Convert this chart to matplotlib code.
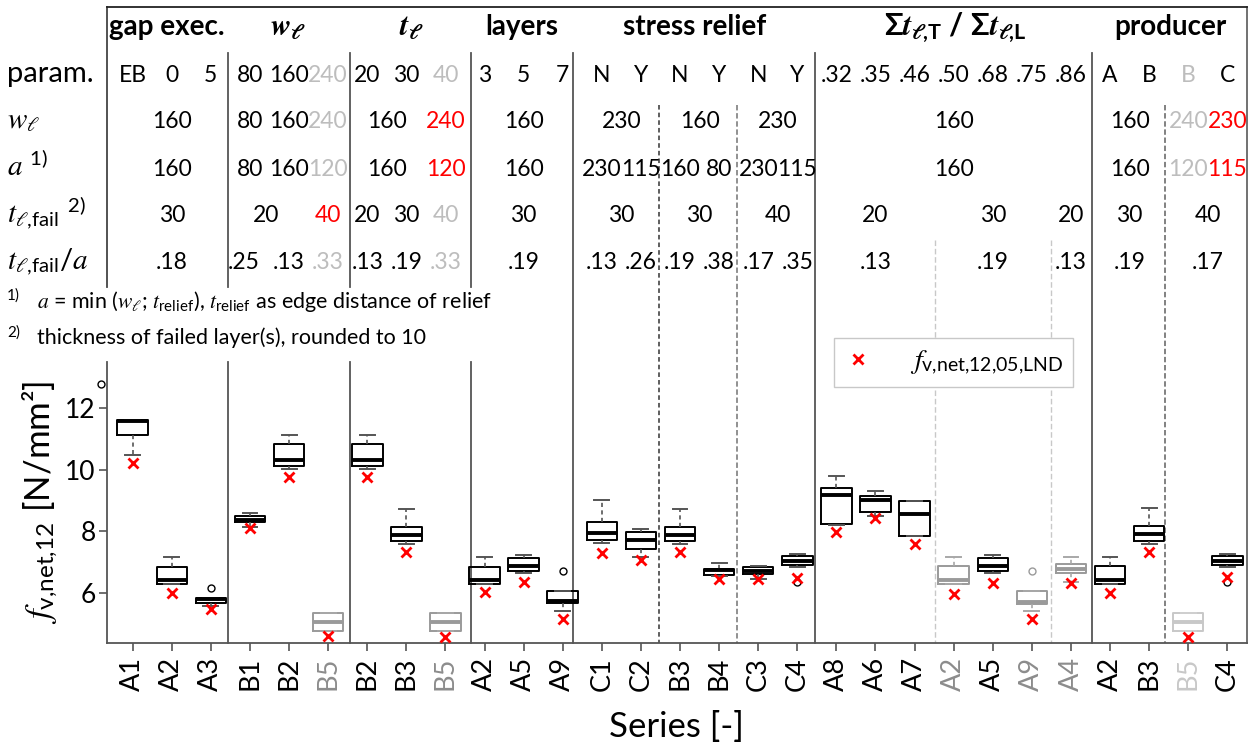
import numpy as np
import matplotlib
matplotlib.use('Agg')
import matplotlib.pyplot as plt
from matplotlib.transforms import blended_transform_factory
from matplotlib.lines import Line2D

plt.rcParams['font.family'] = ['Lato', 'DejaVu Sans']
plt.rcParams['mathtext.fontset'] = 'custom'
plt.rcParams['mathtext.rm'] = 'Lato'
plt.rcParams['mathtext.it'] = 'STIXGeneral:italic'
plt.rcParams['mathtext.bf'] = 'STIXGeneral:italic:bold'
plt.rcParams['mathtext.sf'] = 'Lato:bold'
plt.rcParams['mathtext.fallback'] = 'stix'

# ---------------- data ----------------
series = ['A1', 'A2', 'A3', 'B1', 'B2', 'B5', 'B2', 'B3', 'B5', 'A2', 'A5', 'A9',
          'C1', 'C2', 'B3', 'B4', 'C3', 'C4', 'A8', 'A6', 'A7', 'A2', 'A5', 'A9',
          'A4', 'A2', 'B3', 'B5', 'C4']
# 0 = regular, 1 = grey (not comparable), 2 = light grey
shade = [0, 0, 0, 0, 0, 1, 0, 0, 1, 0, 0, 0,
         0, 0, 0, 0, 0, 0, 0, 0, 0, 1, 0, 1,
         1, 0, 0, 2, 0]
whislo = [10.47, 6.30, 5.61, 8.15, 10.03, 4.78, 10.03, 7.60, 4.78, 6.30, 6.67, 5.44,
          7.63, 7.16, 7.59, 6.57, 6.46, 6.86, 8.21, 8.51, 7.84, 6.30, 6.66, 5.43,
          6.37, 6.30, 7.61, 4.78, 6.86]
q1 = [11.10, 6.31, 5.69, 8.29, 10.10, 4.80, 10.10, 7.70, 4.80, 6.31, 6.72, 5.68,
      7.72, 7.43, 7.68, 6.60, 6.63, 6.92, 8.24, 8.64, 7.84, 6.31, 6.71, 5.67,
      6.66, 6.31, 7.70, 4.80, 6.92]
med = [11.58, 6.44, 5.82, 8.37, 10.32, 5.08, 10.32, 7.90, 5.08, 6.44, 6.89, 5.74,
       7.95, 7.73, 7.88, 6.76, 6.73, 7.05, 9.18, 9.03, 8.57, 6.44, 6.89, 5.73,
       6.80, 6.44, 7.92, 5.08, 7.05]
q3 = [11.60, 6.86, 5.84, 8.50, 10.83, 5.36, 10.83, 8.15, 5.36, 6.86, 7.13, 6.09,
      8.31, 7.98, 8.15, 6.80, 6.85, 7.21, 9.40, 9.13, 8.98, 6.87, 7.13, 6.09,
      6.95, 6.87, 8.17, 5.37, 7.21]
whishi = [11.60, 7.17, 5.84, 8.58, 11.10, 5.36, 11.10, 8.74, 5.36, 7.17, 7.25, 6.09,
          9.00, 8.08, 8.73, 6.97, 6.87, 7.27, 9.79, 9.31, 8.98, 7.17, 7.25, 6.09,
          7.17, 7.17, 8.75, 5.37, 7.28]
outliers = [[], [], [6.18], [], [], [], [], [], [], [], [], [6.73],
            [], [], [], [], [], [6.38], [], [], [], [], [], [6.72],
            [], [], [], [], [6.38]]
f_lnd = [10.21, 6.01, 5.50, 8.11, 9.75, 4.64, 9.75, 7.34, 4.60, 6.04, 6.36, 5.16,
         7.29, 7.08, 7.34, 6.48, 6.46, 6.50, 7.97, 8.43, 7.60, 5.98, 6.35, 5.18,
         6.34, 6.01, 7.34, 4.60, 6.53]
a1_extra_outlier = 12.76

headers = ['gap exec.', r'$\mathbf{w}_{\mathbf{\ell}}$', r'$\mathbf{t}_{\mathbf{\ell}}$',
           'layers', 'stress relief',
           r'$\mathsf{\Sigma}\mathbf{t}_{\mathbf{\ell}\mathsf{{,}T}}$ / '
           r'$\mathsf{\Sigma}\mathbf{t}_{\mathbf{\ell}\mathsf{{,}L}}$',
           'producer']
header_at = [1.88, 4.97, 8.14, 10.95, 15.38, 22.04, 27.54]

param_row = ['EB', '0', '5', '80', '160', '240', '20', '30', '40', '3', '5', '7',
             'N', 'Y', 'N', 'Y', 'N', 'Y', '.32', '.35', '.46', '.50', '.68', '.75', '.86',
             'A', 'B', 'B', 'C']
param_col = ['k'] * 5 + ['g'] + ['k'] * 2 + ['g'] + ['k'] * 18 + ['g', 'k']

w_row = [(2, '160', 'k'), (4, '80', 'k'), (5, '160', 'k'), (6, '240', 'g'),
         (7.5, '160', 'k'), (9, '240', 'r'), (11, '160', 'k'), (13.5, '230', 'k'),
         (15.5, '160', 'k'), (17.5, '230', 'k'), (22, '160', 'k'), (26.5, '160', 'k'),
         (28, '240', 'g'), (29, '230', 'r')]
a_row = [(2, '160', 'k'), (4, '80', 'k'), (5, '160', 'k'), (6, '120', 'g'),
         (7.5, '160', 'k'), (9, '120', 'r'), (11, '160', 'k'), (13, '230', 'k'),
         (14, '115', 'k'), (15, '160', 'k'), (16, '80', 'k'), (17, '230', 'k'),
         (18, '115', 'k'), (22, '160', 'k'), (26.5, '160', 'k'), (28, '120', 'g'),
         (29, '115', 'r')]
tfail_row = [(2, '30', 'k'), (4.4, '20', 'k'), (6, '40', 'r'), (7, '20', 'k'),
             (8, '30', 'k'), (9, '40', 'g'), (11, '30', 'k'), (13.5, '30', 'k'),
             (15.5, '30', 'k'), (17.5, '40', 'k'), (20, '20', 'k'), (23, '30', 'k'),
             (25, '20', 'k'), (26.5, '30', 'k'), (28.5, '40', 'k')]
ratio_row = [(2, '.18', 'k'), (3.85, '.25', 'k'), (5, '.13', 'k'), (6, '.33', 'g'),
             (7, '.13', 'k'), (8, '.19', 'k'), (9, '.33', 'g'), (11, '.19', 'k'),
             (13, '.13', 'k'), (14, '.26', 'k'), (15, '.19', 'k'), (16, '.38', 'k'),
             (17, '.17', 'k'), (18, '.35', 'k'), (20, '.13', 'k'), (23, '.19', 'k'),
             (25, '.13', 'k'), (26.5, '.19', 'k'), (28.5, '.17', 'k')]
row_labels = ['param.', r'$w_\ell$', r'$a$ $^{\mathrm{1)}}$',
              r'$t_{\ell\mathrm{{,}fail}}$ $^{\mathrm{2)}}$', r'$t_{\ell\mathrm{{,}fail}}/a$']

# ---------------- layout ----------------
W, H = 1252, 749
def fy(px):
    return 1 - px / H

fig = plt.figure(figsize=(W / 100, H / 100), dpi=100)
ax = fig.add_axes([107 / W, fy(643), (1246.7 - 107) / W, (643 - 362) / H])
XL = (0.3425, 29.496)
ax.set_xlim(*XL)
ax.set_ylim(4.4, 13.47)

TXT = {'k': 'black', 'g': '#bdbdbd', 'r': '#ff0000'}
BOXC = {0: 'black', 1: '#9a9a9a', 2: '#c8c8c8'}
WHC = {0: '#555555', 1: '#a8a8a8', 2: '#d0d0d0'}
LBLC = {0: 'black', 1: '#8c8c8c', 2: '#c8c8c8'}

pos = np.arange(1, len(series) + 1)
for i, p in enumerate(pos):
    st = dict(whislo=whislo[i], q1=q1[i], med=med[i], q3=q3[i], whishi=whishi[i],
              fliers=outliers[i])
    c = BOXC[shade[i]]
    wc = WHC[shade[i]]
    ax.bxp([st], positions=[p], widths=0.78, capwidths=0.38, showfliers=True,
           boxprops=dict(color=c, linewidth=1.4),
           medianprops=dict(color=c, linewidth=2.8, solid_capstyle='butt'),
           whiskerprops=dict(color=wc, linewidth=1.2, linestyle=(0, (2.5, 2))),
           capprops=dict(color=wc, linewidth=1.4),
           flierprops=dict(marker='o', markerfacecolor='none', markeredgecolor=c,
                           markersize=5, markeredgewidth=1.0),
           manage_ticks=False, zorder=3)

ax.plot([pos[0] - 0.81], [a1_extra_outlier], marker='o', mfc='none', mec='black',
        ms=5, mew=1.0, ls='none', clip_on=False, zorder=3)
ax.plot(pos, f_lnd, ls='none', marker='x', color='#ff0000', ms=7, mew=2, zorder=4)

ax.set_xticks(pos)
ax.set_xticklabels(series, rotation=90, fontsize=19.5)
for lab, s in zip(ax.get_xticklabels(), shade):
    lab.set_color(LBLC[s])
ax.set_yticks([6, 8, 10, 12])
ax.set_yticklabels(['6', '8', '10', '12'], fontsize=19)
ax.tick_params(direction='out', length=6, width=1.2, color='#555555')
ax.tick_params(axis='y', pad=2)
ax.tick_params(axis='x', pad=4)
for sp in ['top', 'right']:
    ax.spines[sp].set_visible(False)
for sp in ['left', 'bottom']:
    ax.spines[sp].set_color('#555555')
    ax.spines[sp].set_linewidth(1.3)

ax.set_xlabel('Series [-]', fontsize=25)
ax.xaxis.label.set_va('center')
ax.xaxis.set_label_coords(0.5, (643 - 727) / 281)
ax.set_ylabel(r'$f_{\mathrm{v{,}net{,}12}}$ [N/mm²]', fontsize=25)
ax.yaxis.label.set_va('center')
ax.yaxis.set_label_coords((40 - 107) / 1139.7, 0.5)

T = blended_transform_factory(ax.transData, fig.transFigure)

def vline(x, y0, y1, color='#555555', ls='-', lw=1.3):
    ax.plot([x, x], [fy(y0), fy(y1)], transform=T, color=color, ls=ls, lw=lw,
            clip_on=False, zorder=1)

# frame of table
ax.plot([XL[0], XL[1]], [fy(7), fy(7)], transform=T, color='#222222', lw=1.3, clip_on=False)
vline(XL[0], 7, 287, color='#444444')
vline(XL[1], 7, 643, color='#666666')
for x in [3.45, 6.57, 9.66]:
    vline(x, 53, 287)
    vline(x, 362, 643)
for x in [12.27, 18.46, 25.55]:
    vline(x, 53, 643)
vline(14.46, 105, 643, color='#333333', ls=(0, (3, 2)), lw=1.1)
vline(16.46, 105, 643, color='#888888', ls=(0, (3, 1.5)), lw=1.3)
vline(27.41, 105, 643, color='#777777', ls=(0, (3, 1.5)), lw=1.3)
for x in [21.52, 24.48]:
    vline(x, 240, 643, color='#c8c8c8', ls=(0, (4, 2)), lw=1.0)

# table texts
for x, s in zip(header_at, headers):
    fs = 22 if s.startswith('$') else 20
    ax.text(x, fy(35), s, transform=T, ha='center', va='baseline', fontsize=fs,
            fontweight='bold')
for p, s, c in zip(pos, param_row, param_col):
    ax.text(p, fy(82), s, transform=T, ha='center', va='baseline', fontsize=16.5,
            color=TXT[c])
for base, row in [(128.5, w_row), (176, a_row), (222.5, tfail_row), (269, ratio_row)]:
    for x, s, c in row:
        ax.text(x, fy(base), s, transform=T, ha='center', va='baseline',
                fontsize=16.5, color=TXT[c])
for base, s in zip([82, 128.5, 176, 222.5, 269], row_labels):
    fig.text(7 / W, fy(base), s, ha='left', va='baseline', fontsize=21)

fig.text(7 / W, fy(300), '1)', ha='left', va='baseline', fontsize=11)
fig.text(37 / W, fy(308),
         r'$a$ = min ($w_\ell$; $t_{\mathrm{relief}}$), $t_{\mathrm{relief}}$ as edge distance of relief',
         ha='left', va='baseline', fontsize=15.5)
fig.text(7 / W, fy(337), '2)', ha='left', va='baseline', fontsize=11)
fig.text(37 / W, fy(344), 'thickness of failed layer(s), rounded to 10',
         ha='left', va='baseline', fontsize=15.5)

handle = Line2D([], [], ls='none', marker='x', color='#ff0000', ms=7, mew=2)
fig.legend([handle], [r'$f_{\mathrm{v{,}net{,}12{,}05{,}LND}}$'], loc='upper left',
           bbox_to_anchor=(834 / W, fy(338)), fontsize=20, frameon=True,
           fancybox=False, edgecolor='#c8c8c8', framealpha=1, borderpad=0.35,
           handlelength=1.0, handletextpad=1.4, borderaxespad=0)

fig.savefig('out.png', dpi=100)
